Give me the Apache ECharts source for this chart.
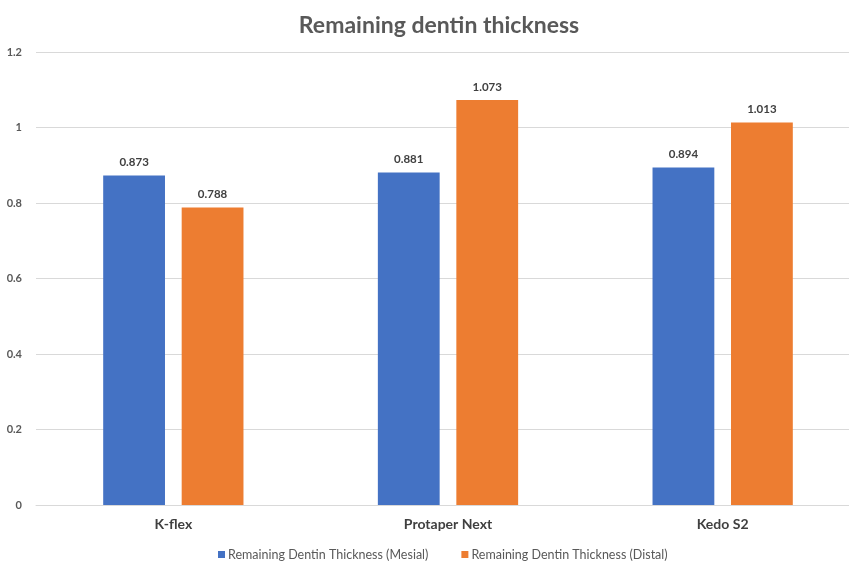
<!DOCTYPE html>
<html>
<head>
<meta charset="utf-8">
<script src="https://cdn.jsdelivr.net/npm/echarts@6/dist/echarts.min.js"></script>
<style>
html,body{margin:0;padding:0;background:#fff;overflow:hidden;}
#chart{width:860px;height:563px;}
</style>
</head>
<body>
<div id="chart"></div>
<script>
var categories = ['K-flex', 'Protaper Next', 'Kedo S2'];
var mesial = [0.873, 0.881, 0.894];
var distal = [0.788, 1.073, 1.013];
var seriesNames = ['Remaining Dentin Thickness (Mesial)', 'Remaining Dentin Thickness (Distal)'];

var font = 'Lato, "Open Sans", sans-serif';
var chart = echarts.init(document.getElementById('chart'));
var labelCfg = {
  show: true, position: 'top', distance: 7,
  fontFamily: font, fontSize: 11.5, fontWeight: 'bold', color: '#404040',
  formatter: function (p) { return p.value.toFixed(3); }
};
chart.setOption({
  animation: false,
  backgroundColor: '#fff',
  title: {
    text: 'Remaining dentin thickness',
    left: 434, top: 9, textAlign: 'center',
    textStyle: { fontFamily: font, fontSize: 23, fontWeight: 'bold', color: '#595959' }
  },
  legend: {
    data: seriesNames,
    left: 213, top: 543,
    itemWidth: 7, itemHeight: 7, itemGap: 33,
    icon: 'rect',
    textStyle: { fontFamily: font, fontSize: 12.5, color: '#595959', padding: [0, 0, 0, -2] }
  },
  grid: { left: 36, right: 0, top: 52, bottom: 58, containLabel: false },
  xAxis: {
    type: 'category', data: categories,
    axisLine: { show: true, lineStyle: { color: '#d9d9d9' } },
    axisTick: { show: false },
    axisLabel: { fontFamily: font, fontSize: 14, fontWeight: 'bold', color: '#404040', margin: 12 }
  },
  yAxis: {
    type: 'value', min: 0, max: 1.2, interval: 0.2,
    axisLine: { show: false }, axisTick: { show: false },
    splitLine: { lineStyle: { color: '#d9d9d9' } },
    axisLabel: {
      fontFamily: font, fontSize: 11, fontWeight: 'bold', color: '#595959', margin: 14,
      formatter: function (v) { return String(Math.round(v * 10) / 10); }
    }
  },
  series: [
    { name: seriesNames[0], type: 'bar', data: mesial, barWidth: '22.5%', barGap: '27%',
      itemStyle: { color: '#4472C4' }, label: labelCfg },
    { name: seriesNames[1], type: 'bar', data: distal, barWidth: '22.5%', barGap: '27%',
      itemStyle: { color: '#ED7D31' }, label: labelCfg }
  ]
});
</script>
</body>
</html>
